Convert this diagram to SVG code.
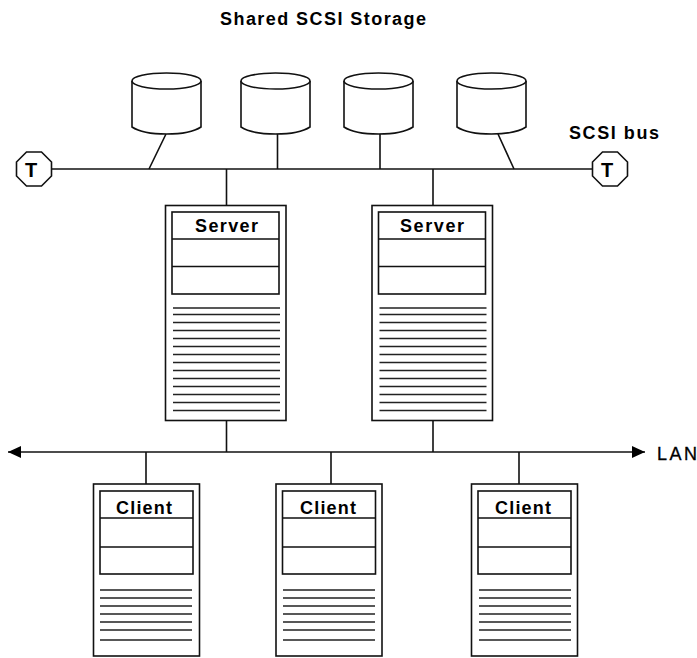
<svg xmlns="http://www.w3.org/2000/svg" width="697" height="658" viewBox="0 0 697 658">
<defs>
<style>
.l{fill:none;stroke:#111;stroke-width:1.6}
.b{fill:#fff;stroke:#111;stroke-width:1.6}
.r{stroke:#222;stroke-width:1.6;fill:none}
text{font-family:"Liberation Sans",Arial,sans-serif;fill:#000;font-weight:bold;font-size:18px}
.t{font-size:20px;text-anchor:middle}
</style>
<g id="cyl">
<path class="b" d="M0 9V55C6 59 18 62 34.500 62C51 62 63 59 69 55V9"/>
<ellipse class="b" cx="34.500" cy="9" rx="34.500" ry="8"/>
</g>
<path id="term" class="b" d="M-7.500 -17H7.500L17.500 -7V7L7.500 17H-7.500L-17.500 7V-7Z"/>
<path id="srvl" class="r" d="M0 308H107M0 314.500H107M0 322.500H107M0 330.500H107M0 338.500H107M0 346.500H107M0 354.500H107M0 362.500H107M0 370.500H107M0 378.500H107M0 386.500H107M0 394.500H107M0 402.500H107M0 410.500H107"/>
<path id="clil" class="r" d="M0 590H92M0 598H92M0 606H92M0 614H92M0 622H92M0 630H92M0 640H92"/>
<marker id="arrow" viewBox="0 0 13 12" refX="13" refY="6" markerWidth="13" markerHeight="12" markerUnits="userSpaceOnUse" orient="auto-start-reverse"><path d="M0 0L13 6L0 12Z" fill="#000"/></marker>
</defs>
<g id="connectors">
<path class="l" d="M52 169H592"/>
<path class="l" d="M166 134L149 169M277.500 134V169M380 134V169M498 134L514 169"/>
<path class="l" d="M226.500 169V205M433 169V205M226.500 420V452M433 420V452"/>
<path class="l" d="M146 452V484M331 452V484M519 452V484"/>
<path class="l" d="M8 452H645" marker-start="url(#arrow)" marker-end="url(#arrow)"/>
</g>
<g id="title"><text x="220" y="25" textLength="206" lengthAdjust="spacing">Shared SCSI Storage</text></g>
<g id="disk1"><use href="#cyl" x="132" y="72"/></g>
<g id="disk2"><use href="#cyl" x="241" y="72"/></g>
<g id="disk3"><use href="#cyl" x="344" y="72"/></g>
<g id="disk4"><use href="#cyl" x="457" y="72"/></g>
<g id="term1"><use href="#term" x="34" y="169"/><text class="t" x="31" y="177">T</text></g>
<g id="term2"><use href="#term" x="610" y="169"/><text class="t" x="607" y="177">T</text></g>
<g id="buslabel"><text x="569" y="139" textLength="90" lengthAdjust="spacing">SCSI bus</text></g>
<g id="lanlabel"><text x="657" y="460" textLength="40" lengthAdjust="spacing" style="font-weight:normal;stroke:#000;stroke-width:.3">LAN</text></g>
<g id="server1">
<rect class="b" x="165.500" y="205.500" width="120.500" height="215"/>
<rect class="b" x="172" y="212" width="107" height="82"/>
<path class="l" d="M172 239H279M172 266.500H279"/>
<use href="#srvl" x="173"/>
<text x="195" y="232" textLength="63" lengthAdjust="spacing">Server</text>
</g>
<g id="server2">
<rect class="b" x="372" y="205.500" width="120.500" height="215"/>
<rect class="b" x="378.500" y="212" width="107" height="82"/>
<path class="l" d="M378.500 239H485.500M378.500 266.500H485.500"/>
<use href="#srvl" x="379.500"/>
<text x="400" y="232" textLength="64" lengthAdjust="spacing">Server</text>
</g>
<g id="client1">
<rect class="b" x="93.500" y="484" width="106" height="172"/>
<rect class="b" x="100" y="491" width="93" height="83"/>
<path class="l" d="M100 518H193M100 547H193"/>
<use href="#clil" x="100"/>
<text x="116" y="514" textLength="56" lengthAdjust="spacing">Client</text>
</g>
<g id="client2">
<rect class="b" x="276" y="484" width="106" height="172"/>
<rect class="b" x="282.500" y="491" width="93" height="83"/>
<path class="l" d="M282.500 518H375.500M282.500 547H375.500"/>
<use href="#clil" x="283"/>
<text x="300" y="514" textLength="56" lengthAdjust="spacing">Client</text>
</g>
<g id="client3">
<rect class="b" x="471.500" y="484" width="106" height="172"/>
<rect class="b" x="478" y="491" width="93" height="83"/>
<path class="l" d="M478 518H571M478 547H571"/>
<use href="#clil" x="479"/>
<text x="495" y="514" textLength="56" lengthAdjust="spacing">Client</text>
</g>
</svg>
